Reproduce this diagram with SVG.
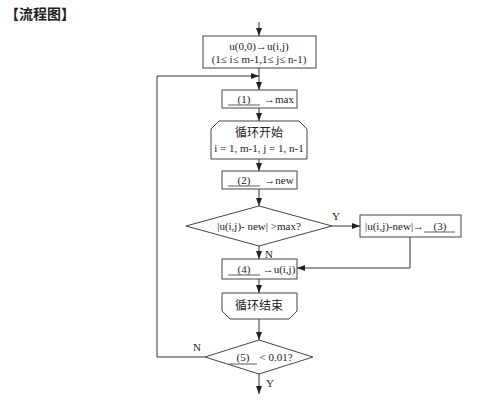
<svg xmlns="http://www.w3.org/2000/svg" width="492" height="416" viewBox="0 0 492 416">
<defs>
<marker id="ah" markerWidth="8" markerHeight="6" refX="8" refY="3" orient="auto" markerUnits="userSpaceOnUse">
<path d="M0,0 L8,3 L0,6 Z" fill="#222"/>
</marker>
<style>
.s{fill:#fff;stroke:#444;stroke-width:1}
.t{font-family:"Liberation Serif","Noto Sans CJK SC",serif;font-size:11px;fill:#222;text-anchor:middle}
.c{font-family:"Noto Sans CJK SC",sans-serif;font-size:12px;fill:#222;text-anchor:middle}
.l{stroke:#333;stroke-width:1;fill:none}
.u{stroke:#333;stroke-width:0.8}
</style>
</defs>
<rect width="492" height="416" fill="#fff"/>
<text x="5" y="19" font-family="Noto Sans CJK SC, sans-serif" font-size="14" font-weight="bold" fill="#222">【流程图】</text>

<g id="connectors">
<line class="l" x1="259" y1="22" x2="259" y2="36" marker-end="url(#ah)"/>
<line class="l" x1="259" y1="68" x2="259" y2="90" marker-end="url(#ah)"/>
<polyline class="l" points="205,357 157,357 157,76 259,76" marker-end="url(#ah)"/>
<line class="l" x1="259" y1="108" x2="259" y2="121" marker-end="url(#ah)"/>
<line class="l" x1="259" y1="159" x2="259" y2="171" marker-end="url(#ah)"/>
<line class="l" x1="259" y1="189" x2="259" y2="206" marker-end="url(#ah)"/>
<line class="l" x1="332" y1="226" x2="360" y2="226" marker-end="url(#ah)"/>
<line class="l" x1="259" y1="246" x2="259" y2="259" marker-end="url(#ah)"/>
<polyline class="l" points="410,237 410,268 297,268" marker-end="url(#ah)"/>
<line class="l" x1="259" y1="279" x2="259" y2="293" marker-end="url(#ah)"/>
<line class="l" x1="259" y1="319" x2="259" y2="340" marker-end="url(#ah)"/>
<line class="l" x1="259" y1="374" x2="259" y2="394" marker-end="url(#ah)"/>
<text class="t" x="336" y="220">Y</text>
<text class="t" x="269" y="258">N</text>
<text class="t" x="197" y="351">N</text>
<text class="t" x="270" y="387">Y</text>
</g>

<g id="n1">
<rect class="s" x="203" y="36" width="113" height="32"/>
<text class="t" x="259" y="50">u(0,0)→u(i,j)</text>
<text class="t" x="259" y="63">(1≤ i≤ m-1,1≤ j≤ n-1)</text>
</g>

<g id="n2">
<rect class="s" x="222" y="90" width="75" height="18"/>
<text class="t" x="244" y="103">(1)</text>
<line class="u" x1="228" y1="105" x2="260" y2="105"/>
<text class="t" x="279" y="103">→max</text>
</g>

<g id="n3">
<path class="s" d="M219,121 L299,121 L307,129 L307,159 L211,159 L211,129 Z"/>
<text class="c" x="259" y="137">循环开始</text>
<text class="t" x="259" y="152">i = 1, m-1, j = 1, n-1</text>
</g>

<g id="n4">
<rect class="s" x="222" y="171" width="75" height="18"/>
<text class="t" x="244" y="184">(2)</text>
<line class="u" x1="228" y1="186" x2="260" y2="186"/>
<text class="t" x="279" y="184">→new</text>
</g>

<g id="n5">
<polygon class="s" points="259,206 332,226 259,246 186,226"/>
<text class="t" x="259" y="230">|u(i,j)- new| &gt;max?</text>
</g>

<g id="n6">
<rect class="s" x="360" y="215" width="101" height="22"/>
<text class="t" x="365" y="230" style="text-anchor:start">|u(i,j)-new|→</text>
<text class="t" x="440" y="230">(3)</text>
<line class="u" x1="424" y1="232" x2="455" y2="232"/>
</g>

<g id="n7">
<rect class="s" x="222" y="259" width="75" height="20"/>
<text class="t" x="244" y="273">(4)</text>
<line class="u" x1="228" y1="275" x2="260" y2="275"/>
<text class="t" x="279" y="273">→u(i,j)</text>
</g>

<g id="n8">
<path class="s" d="M222,293 L297,293 L297,311 L289,319 L230,319 L222,311 Z"/>
<text class="c" x="259" y="310">循环结束</text>
</g>

<g id="n9">
<polygon class="s" points="259,340 313,357 259,374 205,357"/>
<text class="t" x="243" y="361">(5)</text>
<line class="u" x1="229" y1="364" x2="257" y2="364"/>
<text class="t" x="276" y="361">&lt; 0.01?</text>
</g>
</svg>
